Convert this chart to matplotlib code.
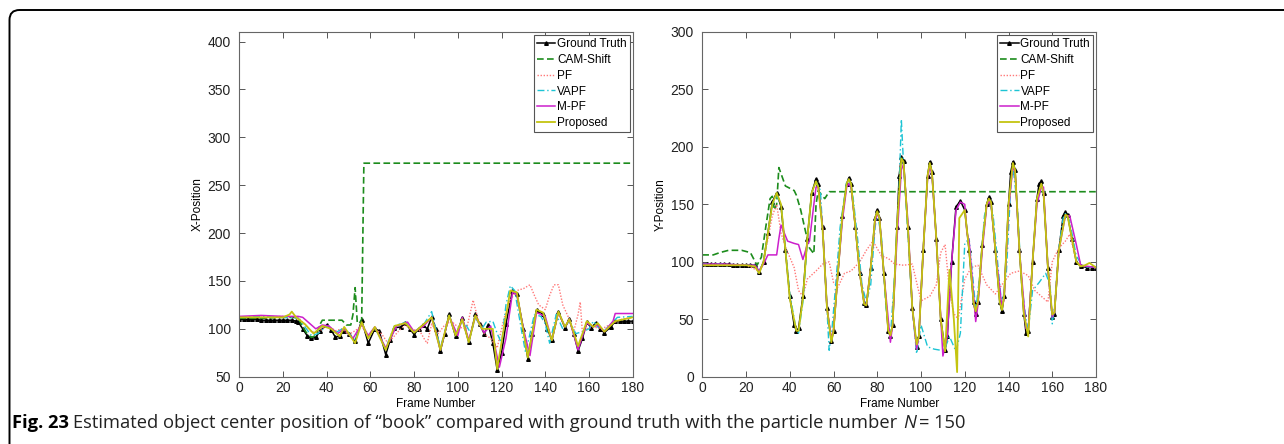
import matplotlib
matplotlib.use("Agg")
import matplotlib.pyplot as plt
from matplotlib.patches import FancyBboxPatch
from matplotlib.transforms import IdentityTransform

# ---- X-Position (left panel) ----
gt_x_f = [0, 2, 4, 6, 8, 10, 12, 14, 16, 18, 20, 22, 24, 26, 27, 29, 31, 33, 35, 37,
          40, 42, 44, 46, 48, 50, 53, 56, 59, 62, 64, 67, 69, 71, 74, 76, 78, 80, 82, 84,
          86, 88, 90, 92, 94, 96, 99, 102, 105, 108, 110, 112, 114, 116, 118, 120, 122, 125, 127, 130,
          132, 134, 136, 139, 141, 143, 146, 149, 151, 153, 155, 157, 159, 161, 163, 165, 167, 170, 172, 174,
          176, 178, 180]
gt_x = [110, 110, 110, 110, 110, 109, 109, 109, 109, 109, 109, 109, 109, 108, 107, 100, 93, 90, 91, 98,
        104, 99, 91, 93, 98, 95, 87, 109, 85, 100, 98, 73, 88, 101, 102, 106, 100, 94, 100, 104,
        100, 112, 100, 77, 95, 115, 92, 111, 86, 115, 105, 95, 104, 85, 57, 75, 105, 140, 136, 100,
        69, 95, 120, 115, 100, 88, 118, 101, 110, 95, 77, 90, 107, 101, 106, 100, 96, 102, 108, 108,
        108, 108, 108]

cam_x_f = [0, 10, 20, 25, 27, 29, 31, 33, 35, 37, 38, 47, 49, 51, 52, 53, 54, 55, 56, 57, 180]
cam_x = [111, 111, 112, 112, 111, 102, 95, 91, 93, 105, 109, 109, 104, 104, 115, 143, 106, 106, 110, 273, 273]

pf_x_f = [0, 10, 20, 27, 30, 33, 36, 40, 44, 47, 50, 53, 56, 59, 62, 65, 68, 70, 73, 76,
          79, 82, 85, 86, 88, 91, 94, 97, 100, 104, 107, 109, 112, 115, 118, 121, 124, 127, 130, 133,
          135, 137, 140, 142, 144, 146, 148, 151, 153, 155, 156, 157, 159, 162, 166, 170, 175, 180]
pf_x = [112, 112, 113, 112, 104, 97, 96, 104, 98, 100, 94, 98, 103, 92, 100, 95, 85, 90, 98, 104,
        98, 100, 88, 85, 105, 95, 104, 108, 102, 100, 130, 112, 95, 90, 80, 110, 130, 140, 142, 146,
        135, 125, 120, 135, 146, 146, 125, 110, 97, 115, 128, 95, 100, 102, 100, 105, 110, 112]

vapf_x_f = [0, 10, 20, 27, 30, 33, 36, 40, 44, 48, 53, 56, 59, 62, 67, 71, 76, 80, 84, 88,
            92, 96, 99, 102, 104, 106, 108, 111, 113, 116, 118, 120, 122, 124, 126, 129, 131, 133, 135, 138,
            140, 142, 145, 148, 151, 154, 157, 160, 162, 164, 167, 170, 173, 180]
vapf_x = [112, 113, 112, 111, 102, 93, 95, 103, 96, 101, 88, 106, 92, 101, 80, 103, 107, 97, 103, 118,
          80, 114, 95, 108, 103, 95, 112, 100, 107, 108, 95, 85, 125, 145, 140, 100, 75, 95, 115, 113,
          105, 85, 115, 100, 108, 95, 97, 100, 108, 102, 98, 105, 112, 113]

mpf_x_f = [0, 10, 20, 27, 29, 32, 35, 38, 41, 45, 48, 52, 56, 59, 62, 67, 72, 77, 80, 84,
           88, 92, 96, 100, 102, 105, 108, 112, 115, 119, 122, 125, 127, 130, 133, 136, 140, 143, 146, 149,
           151, 155, 159, 162, 164, 167, 171, 172, 180]
mpf_x = [113, 114, 113, 113, 112, 106, 100, 104, 103, 95, 100, 90, 105, 93, 102, 80, 103, 107, 97, 102,
         112, 78, 113, 93, 112, 88, 113, 96, 103, 60, 90, 138, 136, 100, 72, 117, 113, 88, 117, 102,
         110, 78, 106, 102, 104, 97, 108, 116, 116]

prop_x_f = [0, 10, 20, 23, 24, 26, 30, 34, 38, 42, 46, 48, 53, 56, 59, 62, 67, 71, 76, 80,
            84, 88, 92, 96, 99, 102, 105, 108, 111, 116, 118, 121, 124, 127, 132, 136, 139, 143, 146, 149,
            151, 155, 159, 162, 164, 167, 172, 180]
prop_x = [112, 112, 112, 115, 118, 112, 105, 95, 103, 100, 92, 102, 85, 107, 90, 102, 78, 103, 106, 96,
          104, 112, 78, 114, 93, 110, 86, 114, 100, 100, 58, 100, 140, 138, 70, 120, 117, 88, 118, 102,
          110, 82, 108, 102, 106, 97, 108, 112]

# ---- Y-Position (right panel) ----
gt_y_f = [0, 2, 4, 6, 8, 10, 12, 14, 16, 18, 20, 22, 24, 26, 28, 30, 32, 34, 36, 38,
          40, 42, 43, 44, 46, 48, 50, 52, 53, 55, 57, 59, 60, 62, 64, 66, 67, 68, 70, 72,
          74, 75, 77, 79, 80, 81, 83, 85, 86, 87, 89, 90, 91, 92, 94, 96, 98, 99, 101, 103,
          104, 105, 107, 109, 111, 112, 114, 116, 118, 120, 122, 124, 125, 126, 128, 130, 131, 132, 134, 136,
          137, 138, 140, 141, 142, 143, 145, 147, 148, 149, 151, 153, 154, 155, 156, 158, 160, 161, 163, 165,
          166, 167, 169, 171, 173, 176, 178, 180]
gt_y = [98, 98, 98, 98, 98, 98, 98, 97, 97, 97, 97, 97, 97, 91, 100, 125, 152, 160, 148, 110,
        70, 45, 40, 42, 70, 120, 160, 172, 168, 130, 60, 31, 40, 90, 140, 168, 173, 168, 130, 90,
        64, 62, 95, 138, 145, 138, 90, 40, 35, 45, 130, 175, 191, 188, 130, 60, 26, 35, 110, 175,
        187, 178, 120, 50, 23, 35, 100, 148, 153, 145, 110, 65, 55, 65, 115, 150, 156, 152, 110, 65,
        57, 70, 150, 178, 187, 180, 110, 55, 38, 40, 100, 155, 168, 170, 160, 95, 52, 55, 110, 140,
        143, 141, 120, 100, 96, 95, 95, 95]

cam_y_f = [0, 5, 8, 12, 18, 22, 25, 27, 29, 31, 32, 33, 34, 35, 38, 42, 43, 45, 47, 49,
           51, 52, 53, 55, 56, 58, 180]
cam_y = [106, 106, 108, 110, 110, 108, 97, 104, 130, 155, 157, 145, 150, 182, 166, 162, 158, 145, 128, 112,
         107, 150, 162, 157, 155, 161, 161]

pf_y_f = [0, 10, 20, 26, 28, 30, 32, 34, 36, 38, 40, 42, 44, 46, 48, 52, 55, 58, 60, 62,
          65, 68, 72, 75, 78, 82, 85, 88, 92, 96, 98, 100, 104, 107, 109, 111, 113, 115, 117, 120,
          123, 126, 130, 134, 137, 141, 145, 149, 152, 155, 158, 160, 163, 166, 168, 171, 174, 180]
pf_y = [98, 98, 97, 92, 100, 120, 140, 150, 125, 113, 104, 95, 75, 70, 85, 92, 98, 100, 82, 78,
        90, 92, 100, 110, 118, 105, 103, 98, 97, 98, 82, 66, 70, 80, 108, 115, 75, 55, 50, 85,
        95, 97, 80, 72, 80, 90, 92, 88, 75, 70, 65, 100, 112, 118, 124, 100, 96, 95]

vapf_y_f = [0, 10, 20, 24, 26, 28, 30, 32, 34, 36, 38, 40, 43, 44, 46, 48, 50, 52, 54, 56,
            58, 59, 61, 63, 66, 67, 69, 71, 73, 75, 77, 79, 80, 82, 84, 86, 88, 90, 91, 92,
            94, 96, 98, 100, 103, 106, 109, 111, 113, 116, 118, 120, 122, 124, 125, 127, 129, 131, 133, 135,
            137, 139, 141, 142, 144, 146, 148, 149, 151, 154, 157, 159, 160, 161, 163, 165, 166, 168, 171, 174,
            180]
vapf_y = [98, 98, 97, 97, 92, 100, 125, 150, 158, 150, 112, 72, 40, 38, 65, 118, 160, 170, 162, 95,
          23, 35, 80, 130, 170, 172, 155, 120, 80, 65, 80, 130, 143, 120, 60, 35, 90, 165, 224, 185,
          125, 60, 20, 45, 26, 24, 23, 25, 35, 22, 38, 116, 120, 80, 58, 90, 140, 155, 140, 100,
          60, 90, 165, 183, 150, 81, 50, 40, 75, 82, 90, 80, 46, 60, 112, 138, 142, 135, 105, 96,
          95]

mpf_y_f = [0, 10, 20, 24, 26, 28, 30, 34, 35, 36, 39, 42, 44, 46, 48, 49, 51, 52, 53, 55,
           57, 59, 60, 62, 64, 66, 67, 68, 70, 72, 74, 75, 77, 79, 80, 81, 83, 86, 87, 89,
           91, 92, 94, 96, 98, 99, 101, 103, 104, 105, 107, 110, 112, 114, 116, 118, 120, 121, 122, 125,
           126, 128, 130, 131, 132, 134, 137, 138, 140, 142, 143, 145, 148, 149, 151, 153, 155, 156, 158, 160,
           161, 163, 166, 168, 171, 173, 180]
mpf_y = [98, 98, 97, 97, 92, 98, 106, 106, 120, 132, 118, 116, 115, 102, 115, 118, 150, 165, 165, 130,
         60, 33, 40, 90, 135, 165, 168, 165, 130, 90, 64, 62, 95, 135, 142, 138, 90, 30, 45, 120,
         180, 185, 135, 60, 24, 35, 110, 172, 183, 176, 120, 18, 35, 100, 145, 152, 150, 125, 118, 48,
         62, 110, 148, 153, 150, 110, 60, 68, 145, 183, 178, 110, 42, 40, 100, 150, 165, 165, 95, 52,
         56, 110, 140, 140, 115, 97, 95]

prop_y_f = [0, 10, 20, 24, 26, 28, 30, 32, 34, 36, 38, 40, 43, 44, 46, 48, 50, 52, 53, 55,
            57, 59, 60, 62, 64, 66, 67, 68, 70, 72, 74, 75, 77, 79, 80, 81, 83, 85, 86, 87,
            89, 91, 92, 94, 96, 98, 99, 101, 103, 104, 105, 107, 109, 111, 113, 115, 116.5, 117.5, 120, 122,
            124, 125, 126, 128, 130, 131, 132, 134, 136, 137, 138, 140, 142, 143, 145, 147, 149, 151, 153, 155,
            156, 158, 160, 161, 163, 166, 167, 169, 171, 173, 175, 177, 180]
prop_y = [97, 97, 97, 96, 90, 100, 125, 150, 160, 150, 110, 68, 40, 40, 68, 120, 160, 170, 165, 128,
          60, 30, 40, 90, 140, 168, 172, 168, 130, 90, 63, 62, 95, 138, 144, 138, 90, 40, 36, 45,
          130, 190, 187, 130, 60, 28, 35, 110, 175, 186, 178, 120, 50, 22, 93, 50, 4, 138, 145, 110,
          65, 57, 65, 115, 150, 155, 152, 110, 65, 58, 70, 150, 186, 180, 110, 55, 35, 100, 155, 168,
          160, 95, 54, 56, 110, 141, 140, 120, 100, 96, 97, 99, 95]

labels = ["Ground Truth", "CAM-Shift", "PF", "VAPF", "M-PF", "Proposed"]
x_ticks = [0, 20, 40, 60, 80, 100, 120, 140, 160, 180]

plt.rcParams["font.family"] = ["Liberation Sans", "DejaVu Sans"]
plt.rcParams["font.size"] = 8.5

W, H = 1284, 444
fig = plt.figure(figsize=(W / 100, H / 100), dpi=100)

ax1 = fig.add_axes([239.3 / W, 1 - 376.7 / H, 393.4 / W, 344.7 / H])
ax2 = fig.add_axes([702.3 / W, 1 - 376.7 / H, 393.7 / W, 344.7 / H])


def draw(ax, series, ylim, yticks, ylabel):
    gt, cam, pf, vapf, mpf, prop = series
    ax.plot(*gt, color="black", lw=1.1, marker="^", ms=2.6, label=labels[0])
    ax.plot(*cam, color="#1c8c1c", lw=1.2, ls=(0, (4, 2)), label=labels[1])
    ax.plot(*pf, color="#ff7878", lw=1.0, ls=(0, (1, 1.2)), label=labels[2])
    ax.plot(*vapf, color="#1cc4d4", lw=1.0, ls=(0, (5, 2, 1, 2)), label=labels[3])
    ax.plot(*mpf, color="#cc1fcc", lw=1.1, label=labels[4])
    ax.plot(*prop, color="#c4c410", lw=1.3, label=labels[5])
    ax.set_xlim(0, 180)
    ax.set_ylim(*ylim)
    ax.set_xticks(x_ticks)
    ax.set_yticks(yticks)
    ax.tick_params(direction="in", length=4, width=0.7, color="#555555",
                   top=True, right=True, labelcolor="#222222", labelsize=10)
    ax.tick_params(axis="x", pad=3)
    ax.tick_params(axis="y", pad=6)
    for sp in ax.spines.values():
        sp.set_color("#666666")
        sp.set_linewidth(0.8)
    ax.set_xlabel("Frame Number", labelpad=2)
    ax.set_ylabel(ylabel, labelpad=3)
    leg = ax.legend(loc="upper right", fancybox=False, edgecolor="#555555",
                    handlelength=1.6, handletextpad=0.15, labelspacing=0.33,
                    borderpad=0.25, borderaxespad=0.25, framealpha=1)
    leg.get_frame().set_linewidth(0.8)


draw(ax1, [(gt_x_f, gt_x), (cam_x_f, cam_x), (pf_x_f, pf_x), (vapf_x_f, vapf_x),
           (mpf_x_f, mpf_x), (prop_x_f, prop_x)],
     (50, 410), [50, 100, 150, 200, 250, 300, 350, 400], "X-Position")
draw(ax2, [(gt_y_f, gt_y), (cam_y_f, cam_y), (pf_y_f, pf_y), (vapf_y_f, vapf_y),
           (mpf_y_f, mpf_y), (prop_y_f, prop_y)],
     (0, 300), [0, 50, 100, 150, 200, 250, 300], "Y-Position")

# page frame: top rule and left rule with rounded corner
frame = FancyBboxPatch((9.5, -40), 1500, 474, boxstyle="round,pad=0,rounding_size=10",
                       transform=IdentityTransform(), fill=False, ec="black", lw=1.4)
fig.patches.append(frame)

# caption
cap_font = ["Open Sans", "DejaVu Sans"]
cap_size = 13.2
cap_y = 1 - 423 / H
t1 = fig.text(12 / W, cap_y, "Fig. 23", fontsize=cap_size, fontweight="bold",
              family=cap_font, va="center", ha="left")
fig.canvas.draw()
r = fig.canvas.get_renderer()
x = t1.get_window_extent(r).x1 + 4
t2 = fig.text(x / W, cap_y,
              "Estimated object center position of \u201cbook\u201d compared with ground truth "
              "with the particle number ",
              fontsize=cap_size, family=cap_font, va="center", ha="left", color="#222222")
x = t2.get_window_extent(r).x1 + 1
t3 = fig.text(x / W, cap_y, "N", fontsize=cap_size, style="italic",
              family=cap_font, va="center", ha="left", color="#222222")
x = t3.get_window_extent(r).x1 + 3
fig.text(x / W, cap_y, "= 150", fontsize=cap_size, family=cap_font, va="center", ha="left",
         color="#222222")

fig.savefig("out.png", dpi=100)
